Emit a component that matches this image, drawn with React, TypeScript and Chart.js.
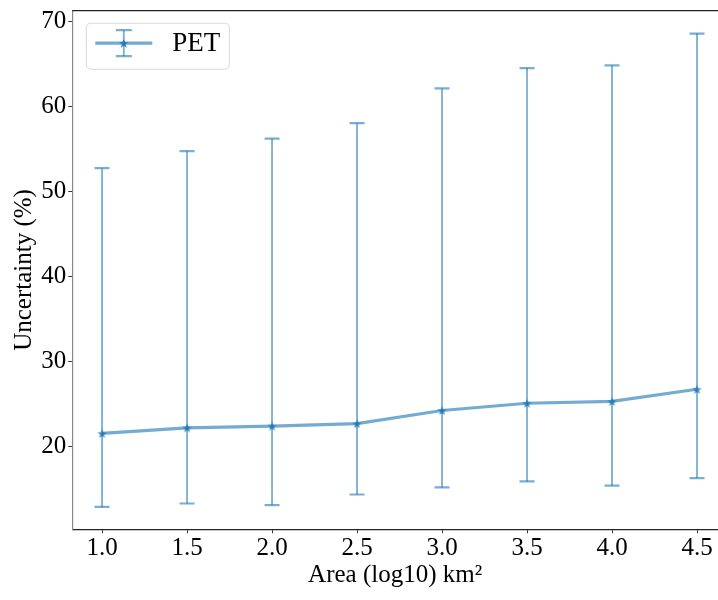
import React, { useEffect, useRef } from 'react';
import { Chart, registerables } from 'chart.js';

Chart.register(...registerables);

const areas = [1.0, 1.5, 2.0, 2.5, 3.0, 3.5, 4.0, 4.5];
const meanUnc = [21.5, 22.15, 22.35, 22.65, 24.2, 25.05, 25.27, 26.7];
const lowUnc = [12.84, 13.24, 13.04, 14.3, 15.13, 15.84, 15.34, 16.24];
const highUnc = [52.75, 54.75, 56.24, 58.05, 62.14, 64.54, 64.85, 68.6];
const xTicks = [1.0, 1.5, 2.0, 2.5, 3.0, 3.5, 4.0, 4.5];
const yTicks = [20, 30, 40, 50, 60, 70];
const seriesName = 'PET';

const LINE_COLOR = 'rgba(31,119,180,0.62)';
const ERR_COLOR = 'rgba(31,119,180,0.6)';
const STAR_COLOR = 'rgba(31,119,180,0.85)';
const FONT = "'Liberation Serif', 'Times New Roman', Times, serif";

function starPath(ctx: CanvasRenderingContext2D, cx: number, cy: number, r: number) {
  const inner = r * 0.4;
  ctx.beginPath();
  for (let i = 0; i < 10; i++) {
    const rad = i % 2 === 0 ? r : inner;
    const a = -Math.PI / 2 + (i * Math.PI) / 5;
    const px = cx + rad * Math.cos(a);
    const py = cy + rad * Math.sin(a);
    if (i === 0) ctx.moveTo(px, py);
    else ctx.lineTo(px, py);
  }
  ctx.closePath();
}

function makeStar(): HTMLCanvasElement {
  const c = document.createElement('canvas');
  c.width = 11;
  c.height = 11;
  const ctx = c.getContext('2d')!;
  ctx.fillStyle = STAR_COLOR;
  starPath(ctx, 5.5, 6, 5);
  ctx.fill();
  return c;
}

const errorBarPlugin = {
  id: 'errorBars',
  afterDatasetsDraw(chart: any) {
    const { ctx, scales, chartArea } = chart;
    const xs = scales.x;
    const ys = scales.y;
    ctx.save();
    ctx.beginPath();
    ctx.rect(chartArea.left, chartArea.top, chartArea.right - chartArea.left, chartArea.bottom - chartArea.top);
    ctx.clip();
    ctx.strokeStyle = ERR_COLOR;
    areas.forEach((a, i) => {
      const px = xs.getPixelForValue(a);
      const pLow = ys.getPixelForValue(lowUnc[i]);
      const pHigh = ys.getPixelForValue(highUnc[i]);
      ctx.lineWidth = 1.8;
      ctx.beginPath();
      ctx.moveTo(px, pLow);
      ctx.lineTo(px, pHigh);
      ctx.stroke();
      ctx.lineWidth = 2.2;
      ctx.beginPath();
      ctx.moveTo(px - 7.5, pLow);
      ctx.lineTo(px + 7.5, pLow);
      ctx.moveTo(px - 7.5, pHigh);
      ctx.lineTo(px + 7.5, pHigh);
      ctx.stroke();
    });
    ctx.restore();
  },
  afterDraw(chart: any) {
    const { ctx, chartArea } = chart;
    ctx.save();
    // top spine
    ctx.strokeStyle = '#222';
    ctx.lineWidth = 1.2;
    ctx.beginPath();
    ctx.moveTo(chartArea.left, chartArea.top);
    ctx.lineTo(chartArea.right, chartArea.top);
    ctx.stroke();

    // legend
    const bx = chartArea.left + 14;
    const by = chartArea.top + 12.5;
    const bw = 143;
    const bh = 46;
    const r = 5;
    ctx.fillStyle = 'rgba(255,255,255,0.8)';
    ctx.strokeStyle = '#d8d8d8';
    ctx.lineWidth = 1;
    ctx.beginPath();
    ctx.moveTo(bx + r, by);
    ctx.lineTo(bx + bw - r, by);
    ctx.quadraticCurveTo(bx + bw, by, bx + bw, by + r);
    ctx.lineTo(bx + bw, by + bh - r);
    ctx.quadraticCurveTo(bx + bw, by + bh, bx + bw - r, by + bh);
    ctx.lineTo(bx + r, by + bh);
    ctx.quadraticCurveTo(bx, by + bh, bx, by + bh - r);
    ctx.lineTo(bx, by + r);
    ctx.quadraticCurveTo(bx, by, bx + r, by);
    ctx.closePath();
    ctx.fill();
    ctx.stroke();

    const cy = by + 20;
    const hx0 = bx + 9;
    const hx1 = bx + 66;
    const hc = (hx0 + hx1) / 2;
    ctx.strokeStyle = LINE_COLOR;
    ctx.lineWidth = 3.2;
    ctx.beginPath();
    ctx.moveTo(hx0, cy);
    ctx.lineTo(hx1, cy);
    ctx.stroke();
    ctx.strokeStyle = ERR_COLOR;
    ctx.lineWidth = 1.8;
    ctx.beginPath();
    ctx.moveTo(hc, cy - 13);
    ctx.lineTo(hc, cy + 13);
    ctx.stroke();
    ctx.lineWidth = 2.2;
    ctx.beginPath();
    ctx.moveTo(hc - 8, cy - 13);
    ctx.lineTo(hc + 8, cy - 13);
    ctx.moveTo(hc - 8, cy + 13);
    ctx.lineTo(hc + 8, cy + 13);
    ctx.stroke();
    ctx.fillStyle = STAR_COLOR;
    starPath(ctx, hc, cy + 0.5, 5);
    ctx.fill();

    ctx.fillStyle = '#000';
    ctx.font = `27px ${FONT}`;
    ctx.textBaseline = 'middle';
    ctx.textAlign = 'left';
    ctx.fillText(seriesName, bx + 86, cy + 1);
    ctx.restore();
  },
};

export default function App() {
  const ref = useRef<HTMLCanvasElement | null>(null);
  useEffect(() => {
    if (!ref.current) return;
    const star = makeStar();
    const chart = new Chart(ref.current, {
      type: 'line',
      data: {
        datasets: [
          {
            label: seriesName,
            data: areas.map((a, i) => ({ x: a, y: meanUnc[i] })),
            borderColor: LINE_COLOR,
            backgroundColor: STAR_COLOR,
            borderWidth: 3.2,
            pointStyle: star as any,
            pointRadius: 5,
            tension: 0,
          },
        ],
      },
      options: {
        animation: false,
        responsive: false,
        maintainAspectRatio: false,
        layout: { autoPadding: false, padding: { top: 10.7, left: 0, right: 0, bottom: 0 } },
        plugins: {
          legend: { display: false },
          tooltip: { enabled: false },
        },
        scales: {
          x: {
            type: 'linear',
            min: 0.825,
            max: 4.6235,
            afterBuildTicks: (s: any) => {
              s.ticks = xTicks.map((v) => ({ value: v }));
            },
            afterFit: (s: any) => {
              s.height = 70.7;
              s.paddingLeft = 0;
              s.paddingRight = 0;
            },
            ticks: {
              color: '#000',
              font: { family: FONT, size: 25 },
              padding: 0,
              maxRotation: 0,
              autoSkip: false,
              callback: (v: any) => Number(v).toFixed(1),
            },
            grid: { drawOnChartArea: false, drawTicks: true, tickLength: 4, color: '#333' },
            border: { display: true, color: '#222', width: 1.2 },
            title: {
              display: true,
              text: 'Area (log10) km²',
              color: '#000',
              font: { family: FONT, size: 25 },
              padding: { top: 0, bottom: 10 },
            },
          },
          y: {
            type: 'linear',
            min: 10.2,
            max: 71.3,
            afterBuildTicks: (s: any) => {
              s.ticks = yTicks.map((v) => ({ value: v }));
            },
            afterFit: (s: any) => {
              s.width = 72.3;
              s.paddingTop = 0;
              s.paddingBottom = 0;
            },
            ticks: {
              color: '#000',
              font: { family: FONT, size: 25 },
              padding: 2,
              autoSkip: false,
              callback: (v: any) => String(v),
            },
            grid: { drawOnChartArea: false, drawTicks: true, tickLength: 4, color: '#333' },
            border: { display: true, color: '#888', width: 1.2 },
            title: {
              display: true,
              text: 'Uncertainty (%)',
              color: '#000',
              font: { family: FONT, size: 25 },
              padding: { top: 9, bottom: 0 },
            },
          },
        },
      },
      plugins: [errorBarPlugin],
    });
    let alive = true;
    if ((document as any).fonts && (document as any).fonts.load) {
      Promise.all([
        (document as any).fonts.load("25px 'Liberation Serif'"),
        (document as any).fonts.load("27px 'Liberation Serif'"),
      ])
        .then(() => {
          if (alive) chart.update();
        })
        .catch(() => {});
    }
    return () => {
      alive = false;
      chart.destroy();
    };
  }, []);
  return (
    <div style={{ position: 'absolute', left: 0, top: 0, width: 718, height: 600, background: '#fff' }}>
      <span style={{ fontFamily: FONT, position: 'absolute', left: -9999, top: 0 }}>0.PET</span>
      <canvas ref={ref} width={718} height={600} style={{ display: 'block', width: 718, height: 600 }} />
    </div>
  );
}
